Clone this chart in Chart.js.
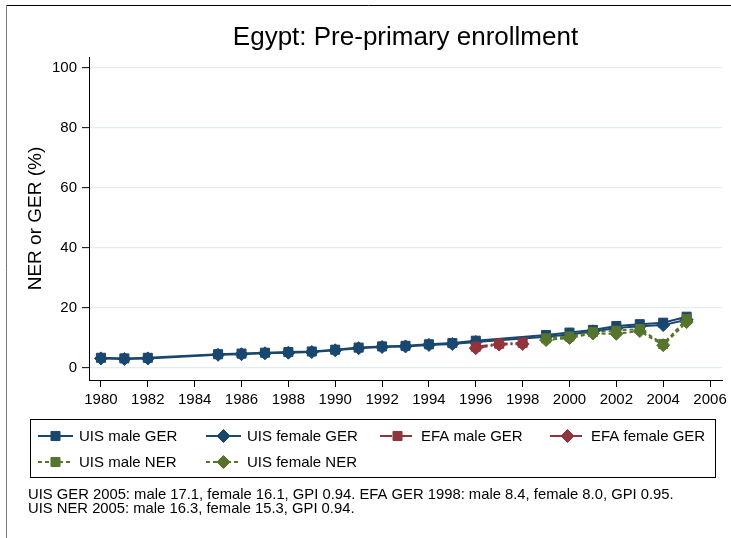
<!DOCTYPE html>
<html><head><meta charset="utf-8">
<script src="https://cdn.jsdelivr.net/npm/chart.js@4.4.1/dist/chart.umd.min.js"></script>
<style>html,body{margin:0;padding:0;background:#fff;}#wrap{position:relative;width:731px;height:538px;}</style>
</head><body><div id="wrap"><canvas id="c" width="731" height="538"></canvas></div>
<script>
const titleText = "Egypt: Pre-primary enrollment";
const yTitleText = "NER or GER (%)";
const gerYears = [1980,1981,1982,1985,1986,1987,1988,1989,1990,1991,1992,1993,1994,1995,1996,1999,2000,2001,2002,2003,2004,2005];
const uisMaleGER = [3.4,3.2,3.4,4.6,4.8,5.1,5.3,5.5,6.1,6.8,7.2,7.4,7.9,8.3,9.1,11.0,11.8,12.7,14.0,14.6,15.1,17.1];
const uisFemaleGER = [3.2,3.0,3.2,4.4,4.6,4.9,5.1,5.3,5.9,6.6,7.0,7.2,7.7,8.0,8.7,10.4,11.2,12.2,13.3,13.9,14.3,16.1];
const efaYears = [1996,1997,1998];
const efaMaleGER = [7.1,8.1,8.4];
const efaFemaleGER = [6.6,7.8,8.0];
const nerYears = [1999,2000,2001,2002,2003,2004,2005];
const uisMaleNER = [9.9,10.5,12.0,12.4,13.0,8.0,16.3];
const uisFemaleNER = [9.3,10.0,11.5,11.4,12.3,7.6,15.3];
const xTicks = [1980,1982,1984,1986,1988,1990,1992,1994,1996,1998,2000,2002,2004,2006];
const yTicks = [0,20,40,60,80,100];
const seriesNames = ["UIS male GER","UIS female GER","EFA male GER","EFA female GER","UIS male NER","UIS female NER"];
const noteLines = [
  "UIS GER 2005: male 17.1, female 16.1, GPI 0.94. EFA GER 1998: male 8.4, female 8.0, GPI 0.95.",
  "UIS NER 2005: male 16.3, female 15.3, GPI 0.94."
];

const NAVY = "#1a476f", MAROON = "#90353b", GREEN = "#55752f";
const FONT = "'Liberation Sans', Arial, Helvetica, sans-serif";

function pts(xs, ys){ return xs.map((x,i)=>({x:x, y:ys[i]})); }

const styles = [
  {color:NAVY, shape:'rect', dash:[]},
  {color:NAVY, shape:'rectRot', dash:[]},
  {color:MAROON, shape:'rect', dash:[12,3,2,3]},
  {color:MAROON, shape:'rectRot', dash:[12,3,2,3]},
  {color:GREEN, shape:'rect', dash:[4,3]},
  {color:GREEN, shape:'rectRot', dash:[4,3]}
];
const seriesData = [
  pts(gerYears, uisMaleGER), pts(gerYears, uisFemaleGER),
  pts(efaYears, efaMaleGER), pts(efaYears, efaFemaleGER),
  pts(nerYears, uisMaleNER), pts(nerYears, uisFemaleNER)
];

const datasets = seriesNames.map((name,i)=>({
  label: name,
  data: seriesData[i],
  borderColor: styles[i].color,
  backgroundColor: styles[i].color,
  borderWidth: 2,
  borderDash: styles[i].dash,
  pointStyle: styles[i].shape,
  pointRadius: styles[i].shape==='rect' ? 6.4 : 6.5,
  pointBorderWidth: 1,
  pointBorderColor: styles[i].color,
  pointBackgroundColor: styles[i].color,
  tension: 0,
  order: 5 - i
}));

function drawMarker(ctx, shape, x, y, color){
  ctx.save();
  ctx.setLineDash([]);
  ctx.fillStyle = color; ctx.strokeStyle = color; ctx.lineWidth = 1;
  ctx.beginPath();
  if (shape === 'rect') {
    const s = 6.4*Math.SQRT1_2;
    ctx.rect(x-s, y-s, 2*s, 2*s);
  } else {
    const r = 6.5;
    ctx.moveTo(x-r,y); ctx.lineTo(x,y-r); ctx.lineTo(x+r,y); ctx.lineTo(x,y+r); ctx.closePath();
  }
  ctx.fill(); ctx.stroke();
  ctx.restore();
}

const decor = {
  id:'decor',
  beforeDraw(chart){
    const ctx = chart.ctx;
    ctx.save(); ctx.fillStyle='#fff'; ctx.fillRect(0,0,chart.width,chart.height); ctx.restore();
  },
  afterDraw(chart){
    const ctx = chart.ctx;
    const ca = chart.chartArea;
    ctx.save();
    ctx.strokeStyle = '#000'; ctx.lineWidth = 1;
    ctx.beginPath(); ctx.moveTo(6, 5.5); ctx.lineTo(731, 5.5); ctx.stroke();
    ctx.strokeStyle = '#777';
    ctx.beginPath(); ctx.moveTo(6.5, 5); ctx.lineTo(6.5, 538); ctx.stroke();
    ctx.fillStyle = '#000';
    ctx.font = "26px " + FONT;
    ctx.textAlign = 'center'; ctx.textBaseline = 'middle';
    ctx.fillText(titleText, (ca.left+ca.right)/2, 38);
    ctx.save();
    ctx.translate(36, (ca.top+ca.bottom)/2);
    ctx.rotate(-Math.PI/2);
    ctx.font = "19px " + FONT;
    ctx.fillText(yTitleText, 0, 0);
    ctx.restore();
    ctx.strokeStyle = '#000'; ctx.lineWidth = 1;
    ctx.strokeRect(30.5, 419.5, 685, 58);
    const cols = [38, 206, 380, 550];
    const rows = [436, 462];
    ctx.font = "15px " + FONT;
    ctx.textAlign = 'left';
    seriesNames.forEach((name,i)=>{
      const cx = cols[i%4], cy = rows[Math.floor(i/4)];
      const st = styles[i];
      ctx.save();
      ctx.strokeStyle = st.color; ctx.lineWidth = 2; ctx.setLineDash(st.dash);
      ctx.beginPath(); ctx.moveTo(cx, cy); ctx.lineTo(cx+35, cy); ctx.stroke();
      ctx.restore();
      drawMarker(ctx, st.shape, cx+17.5, cy, st.color);
      ctx.fillStyle = '#000';
      ctx.fillText(name, cx+41, cy+0.5);
    });
    ctx.font = "14.8px " + FONT;
    ctx.fillText(noteLines[0], 28, 495);
    ctx.fillText(noteLines[1], 28, 509);
    ctx.restore();
  }
};

new Chart(document.getElementById('c'), {
  type:'line',
  data:{datasets},
  options:{
    responsive:false, animation:false, devicePixelRatio:1,
    layout:{padding:{top:57, right:9, bottom:118, left:0}},
    plugins:{legend:{display:false}, tooltip:{enabled:false}, title:{display:false}},
    scales:{
      x:{
        type:'linear', min:1979.49, max:2006.51,
        afterBuildTicks(s){ s.ticks = xTicks.map(v=>({value:v})); },
        afterFit(s){ s.height = 40; },
        ticks:{font:{family:FONT, size:15}, color:'#000', padding:4, maxRotation:0, autoSkip:false, callback:v=>String(v)},
        grid:{drawOnChartArea:false, tickLength:7, tickColor:'#000', tickWidth:1},
        border:{color:'#000', width:1}
      },
      y:{
        type:'linear', min:-4, max:103.67,
        afterBuildTicks(s){ s.ticks = yTicks.map(v=>({value:v})); },
        afterFit(s){ s.width = 89; },
        ticks:{font:{family:FONT, size:15}, color:'#000', padding:5, callback:v=>String(v)},
        grid:{color:'#e3ecef', lineWidth:1.3, tickLength:7, tickColor:'#000', tickWidth:1},
        border:{color:'#000', width:1}
      }
    }
  },
  plugins:[decor]
});
</script></body></html>
